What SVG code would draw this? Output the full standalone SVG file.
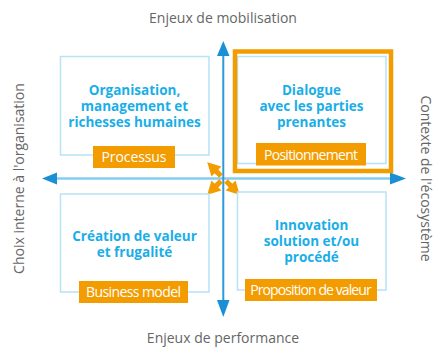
<svg xmlns="http://www.w3.org/2000/svg" width="433" height="347" viewBox="0 0 433 347">
<style>
.axis{font-family:"Open Sans","Liberation Sans",sans-serif;font-size:14px;fill:#666666}
.title{font-family:"Open Sans","Liberation Sans",sans-serif;font-size:13.5px;font-weight:700;fill:#1aaee8;text-anchor:middle}
.lbl{font-family:"Open Sans","Liberation Sans",sans-serif;font-size:14px;fill:#ffffff;text-anchor:middle}
.box{fill:#ffffff;stroke:#b7e2f7;stroke-width:1.5}
.tag{fill:#f39c00}
.oarrow{fill:#f39c00}
</style>
<defs>
<g id="oa"><rect x="3.5" y="-2.6" width="8" height="5.2"/><polygon points="10,-7 23,0 10,7"/></g>
</defs>
<rect width="433" height="347" fill="#ffffff"/>
<text class="axis" x="223" y="23" text-anchor="middle">Enjeux de mobilisation</text>
<text class="axis" x="223" y="343" text-anchor="middle">Enjeux de performance</text>
<text class="axis" transform="translate(23.5,178.5) rotate(-90)" text-anchor="middle">Choix interne à l'organisation</text>
<text class="axis" transform="translate(420.5,178.5) rotate(90)" text-anchor="middle">Contexte de l'écosystème</text>

<g id="connectors">
<line x1="55" y1="178.5" x2="392" y2="178.5" stroke="#86cdf1" stroke-width="2.5"/>
<polygon points="42,178.5 57,172.5 57,184.5" fill="#1a8fd6"/>
<polygon points="406,178.5 390,172.5 390,184.5" fill="#1a8fd6"/>
<line x1="223.3" y1="54" x2="223.3" y2="302" stroke="#2b9ad8" stroke-width="2"/>
<polygon points="223.3,41 217,56 229.5,56" fill="#1a8fd6"/>
<polygon points="223.3,317 217,300 229.5,300" fill="#1a8fd6"/>
<g class="oarrow" transform="translate(223.5,178.5)">
<use href="#oa" transform="rotate(-135)"/>
<use href="#oa" transform="rotate(135)"/>
<use href="#oa" transform="rotate(45)"/>
</g>
</g>

<g id="node-organisation">
<rect class="box" x="60.5" y="56.5" width="148.5" height="98.5"/>
<text class="title" x="134.5" y="95">Organisation,</text>
<text class="title" x="134.5" y="111">management et</text>
<text class="title" x="134.5" y="127">richesses humaines</text>
<rect class="tag" x="93" y="146" width="82" height="22"/>
<text class="lbl" x="134" y="162" textLength="65">Processus</text>
</g>

<g id="node-dialogue">
<rect class="box" x="237.5" y="56.5" width="148.5" height="107"/>
<rect x="235" y="51.5" width="156" height="119.5" fill="none" stroke="#f39c00" stroke-width="4.5"/>
<text class="title" x="311.5" y="95">Dialogue</text>
<text class="title" x="311.5" y="111">avec les parties</text>
<text class="title" x="311.5" y="127">prenantes</text>
<rect class="tag" x="256" y="143" width="110" height="22.5"/>
<text class="lbl" x="311" y="159.5" textLength="94">Positionnement</text>
</g>

<g id="node-creation">
<rect class="box" x="60.5" y="194" width="148.5" height="98"/>
<text class="title" x="134.5" y="240.5">Création de valeur</text>
<text class="title" x="134.5" y="256.5">et frugalité</text>
<rect class="tag" x="79" y="281" width="109" height="22"/>
<text class="lbl" x="133.5" y="297" textLength="95">Business model</text>
</g>

<g id="node-innovation">
<rect class="box" x="237.5" y="192" width="148.5" height="98"/>
<text class="title" x="311.5" y="230">Innovation</text>
<text class="title" x="311.5" y="246">solution et/ou</text>
<text class="title" x="311.5" y="262">procédé</text>
<rect class="tag" x="245" y="279" width="132" height="22"/>
<text class="lbl" x="311" y="295" textLength="121.5">Proposition de valeur</text>
</g>
</svg>
